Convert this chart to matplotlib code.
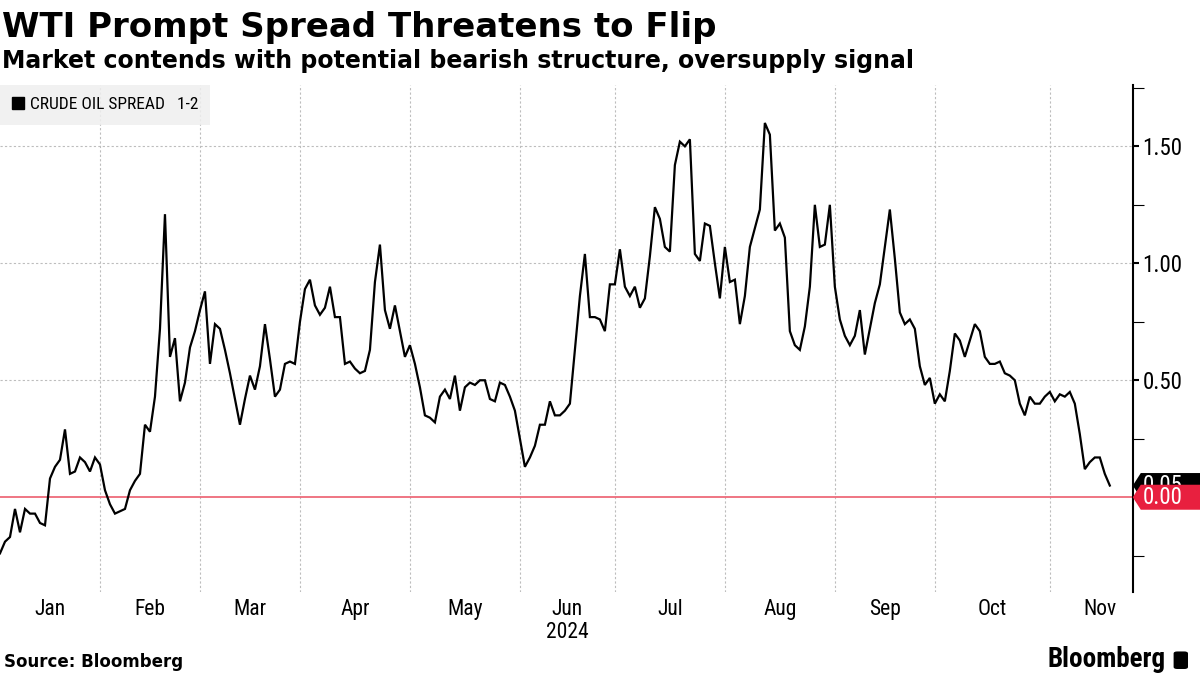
import matplotlib
matplotlib.use("Agg")
import matplotlib.pyplot as plt
import numpy as np
import pandas as pd
from matplotlib import font_manager
from matplotlib.lines import Line2D
from matplotlib.patches import Polygon, FancyBboxPatch
from matplotlib.transforms import blended_transform_factory


# CL1-CL2 spread, one value per NYMEX trading day from 2024-01-03
spread = [
    -0.24, -0.19, -0.17, -0.05, -0.15, -0.05, -0.07, -0.07, -0.11, -0.12,
    0.08, 0.13, 0.16, 0.29, 0.10, 0.11, 0.17, 0.15, 0.11, 0.17,
    0.14, 0.03, -0.03, -0.07, -0.06, -0.05, 0.03, 0.07, 0.10, 0.31,
    0.28, 0.43, 0.72, 1.21, 0.60, 0.68, 0.41, 0.49, 0.64, 0.71,
    0.80, 0.88, 0.57, 0.74, 0.72, 0.63, 0.53, 0.42, 0.31, 0.42,
    0.52, 0.46, 0.56, 0.74, 0.59, 0.43, 0.46, 0.57, 0.58, 0.57,
    0.75, 0.89, 0.93, 0.82, 0.78, 0.81, 0.90, 0.77, 0.77, 0.57,
    0.58, 0.55, 0.53, 0.54, 0.63, 0.92, 1.08, 0.80, 0.72, 0.82,
    0.71, 0.60, 0.65, 0.57, 0.47, 0.35, 0.34, 0.32, 0.43, 0.46,
    0.42, 0.52, 0.37, 0.47, 0.49, 0.48, 0.50, 0.50, 0.42, 0.41,
    0.49, 0.48, 0.43, 0.37, 0.25, 0.13, 0.17, 0.22, 0.31, 0.31,
    0.41, 0.35, 0.35, 0.37, 0.40, 0.63, 0.86, 1.04, 0.77, 0.77,
    0.76, 0.71, 0.91, 0.91, 1.06, 0.90, 0.86, 0.90, 0.81, 0.85,
    1.03, 1.24, 1.19, 1.07, 1.05, 1.42, 1.52, 1.50, 1.53, 1.04,
    1.01, 1.17, 1.16, 1.00, 0.85, 1.07, 0.92, 0.93, 0.74, 0.86,
    1.07, 1.15, 1.23, 1.60, 1.55, 1.14, 1.17, 1.11, 0.71, 0.65,
    0.63, 0.73, 0.90, 1.25, 1.07, 1.08, 1.25, 0.90, 0.76, 0.69,
    0.65, 0.69, 0.80, 0.61, 0.72, 0.83, 0.91, 1.07, 1.23, 1.02,
    0.79, 0.74, 0.76, 0.72, 0.56, 0.48, 0.51, 0.40, 0.44, 0.41,
    0.54, 0.70, 0.67, 0.60, 0.67, 0.74, 0.71, 0.60, 0.57, 0.57,
    0.58, 0.53, 0.52, 0.50, 0.40, 0.35, 0.43, 0.40, 0.40, 0.43,
    0.45, 0.41, 0.44, 0.43, 0.45, 0.40, 0.27, 0.12, 0.15, 0.17,
    0.17, 0.10, 0.05,
]
holidays = [
    "2024-01-15", "2024-02-19", "2024-03-29", "2024-05-27", "2024-06-19",
    "2024-07-04", "2024-09-02", "2024-11-28", "2024-12-25",
]
month_names = ["Jan", "Feb", "Mar", "Apr", "May", "Jun", "Jul", "Aug", "Sep", "Oct", "Nov"]
y_ticks = [0.5, 1.0, 1.5]
y_tick_labels = ["0.50", "1.00", "1.50"]
legend_label = "CRUDE OIL SPREAD   1-2"
zero_label = "0.00"

RED = "#e8203f"
RED_LINE = "#ee6a7a"
GRID = "#bdbdbd"

names = {f.name for f in font_manager.fontManager.ttflist}
COND = next((n for n in ["Liberation Sans Narrow", "Roboto Condensed", "DejaVu Sans"] if n in names),
            "DejaVu Sans")
plt.rcParams["font.family"] = ["DejaVu Sans"]

trading_days = pd.bdate_range("2024-01-03", "2024-12-31", freq="C", holidays=holidays)
x = np.arange(len(spread))
y = np.array(spread)

month_start = [int(np.argmax(trading_days.month == m)) for m in range(1, 13)]
month_mid = [(month_start[i] + month_start[i + 1]) / 2 for i in range(11)]

fig = plt.figure(figsize=(12, 6.75), dpi=100)
ax = fig.add_axes([0.0, 0.123, 0.944, 0.751])

ax.plot(x, y, color="black", lw=1.6, zorder=3, solid_joinstyle="miter")
ax.axhline(0, color=RED_LINE, lw=1.3, zorder=2)

ax.set_xlim(0, 226.6)
ax.set_ylim(-0.405, 1.762)

# month gridlines, labels at month middle
ax.set_xticks(month_start[1:11])
ax.set_xticklabels([])
ax.set_xticks(month_mid, minor=True)
ax.set_xticklabels([m if m != "Jun" else "Jun\n2024" for m in month_names], minor=True,
                   fontfamily=COND, fontsize=15.5, linespacing=1.1)
ax.tick_params(axis="x", which="both", length=0, pad=5)
ax.grid(axis="x", which="major", color=GRID, lw=0.8, linestyle=(0, (2, 2)))

ax.yaxis.tick_right()
ax.set_yticks(y_ticks)
ax.set_yticklabels(y_tick_labels, fontfamily=COND, fontsize=16.5)
ax.set_yticks(np.arange(-0.25, 1.76, 0.5), minor=True)
ax.tick_params(axis="y", which="major", length=4, width=1.5, pad=3, direction="out")
ax.tick_params(axis="y", which="minor", length=8, width=0.8, direction="out")
ax.grid(axis="y", which="major", color=GRID, lw=0.8, linestyle=(0, (2, 2)))

for side in ["left", "top", "bottom"]:
    ax.spines[side].set_visible(False)
ax.spines["right"].set_linewidth(1.5)

# legend
handle = Line2D([], [], marker="s", color="black", linestyle="none", markersize=8)
leg = ax.legend([handle], [legend_label], loc="upper left", bbox_to_anchor=(0.0, 1.0),
                frameon=True, fancybox=False, borderaxespad=0.0, handlelength=0.7,
                handletextpad=0.3, borderpad=0.7,
                prop={"family": COND, "size": 12.5})
leg.get_frame().set_facecolor("#efefef")
leg.get_frame().set_edgecolor("none")
leg.get_frame().set_alpha(0.85)

# value tags on the right axis
fig.canvas.draw()
bbox = ax.get_window_extent()
px_to_data = (ax.get_ylim()[1] - ax.get_ylim()[0]) / bbox.height
px_to_axes = 1.0 / bbox.width
tag_h = 25 * px_to_data
tag_w = 80 * px_to_axes
notch = 8 * px_to_axes
trans = blended_transform_factory(ax.transAxes, ax.transData)


def value_tag(val, label, color, z):
    pts = [(1.0, val), (1.0 + notch, val + tag_h / 2), (1.0 + tag_w, val + tag_h / 2),
           (1.0 + tag_w, val - tag_h / 2), (1.0 + notch, val - tag_h / 2)]
    ax.add_patch(Polygon(pts, closed=True, transform=trans, facecolor=color,
                         edgecolor="none", clip_on=False, zorder=z))
    ax.text(1.0 + notch + 2 * px_to_axes, val, label, transform=trans, color="white",
            fontfamily=COND, fontsize=16.5, va="center", ha="left", clip_on=False, zorder=z + 0.1)


value_tag(y[-1], f"{y[-1]:.2f}", "black", 10)
value_tag(0.0, zero_label, RED, 11)

# titles and footer
fig.text(0.002, 1 - 37 / 675, "WTI Prompt Spread Threatens to Flip", fontsize=24.5,
         fontweight="bold", va="baseline", ha="left")
fig.text(0.002, 1 - 68 / 675, "Market contends with potential bearish structure, oversupply signal",
         fontsize=17, fontweight="bold", va="baseline", ha="left")
fig.text(0.003, 1 - 667 / 675, "Source: Bloomberg", fontsize=12, fontweight="bold",
         va="baseline", ha="left")
fig.text(0.971, 1 - 667 / 675, "Bloomberg", fontsize=19.5, fontweight="bold",
         fontfamily=COND, va="baseline", ha="right")
fig.patches.append(FancyBboxPatch((0.978, 1 - 669 / 675), 0.012, 0.026,
                                  boxstyle="round,pad=0.0,rounding_size=0.003",
                                  transform=fig.transFigure, facecolor="black",
                                  edgecolor="none"))

fig.savefig("out.png", dpi=100)
